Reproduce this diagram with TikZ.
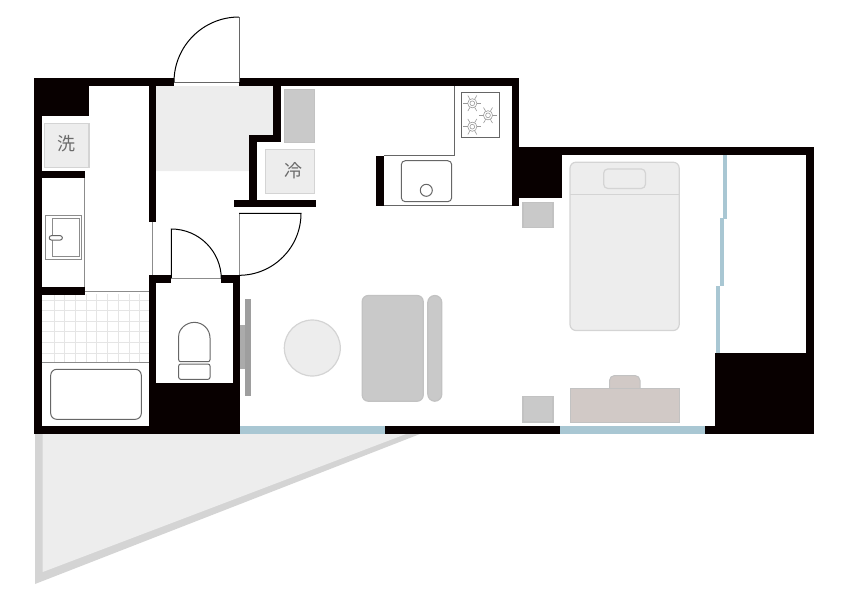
\documentclass[tikz,border=0pt]{standalone}
\usepackage{fontspec}
\usepackage{tikz}
\newfontfamily\cjk{Noto Sans CJK JP}
\definecolor{glasscol}{HTML}{A9C7D3}
\definecolor{deskcol}{HTML}{D1C9C6}
\begin{document}
\begin{tikzpicture}[x=1pt,y=-1pt,
    wall/.style={fill=black!97!red},
    glass/.style={fill=glasscol},
    edgeline/.style={draw=black!60,line width=1pt},
    fine/.style={draw=black!45,line width=1pt},
    furn/.style={fill=black!7,draw=black!17,line width=1.2pt},
    darkfurn/.style={fill=black!21,draw=black!24,line width=1.2pt},
    ring/.style={draw=black!40,line width=0.6pt},
    sign/.style={font=\cjk\fontsize{18}{18}\selectfont,text=black!58}]
    \useasboundingbox (0,0) rectangle (850,600);

    \fill[black!17] (35,434) -- (35,584) -- (420,434) -- cycle;
    \fill[black!7] (42.7,434) -- (42.7,572) -- (406,434) -- cycle;

    \fill[black!7] (156,86) rectangle (273,135) (156,135) rectangle (249,171);

    \foreach \x in {54,64.7,...,140}
        \draw[black!10,line width=0.8pt] (\x,294) -- (\x,362);
    \foreach \y in {300,310.6,...,355}
        \draw[black!10,line width=0.8pt] (42,\y) -- (149,\y);

    \fill[wall] (34,78) rectangle (174,86);
    \fill[wall] (239,78) rectangle (519.3,86);
    \fill[wall] (34,78) rectangle (89.3,116.3);
    \fill[wall] (34,78) rectangle (41.7,434);
    \fill[wall] (34,426) rectangle (240.3,434);
    \fill[wall] (385,426) rectangle (559.7,434);
    \fill[wall] (705.3,426) rectangle (814,434);
    \fill[wall] (34,171) rectangle (85.3,178.3);
    \fill[wall] (34,287) rectangle (85.3,294.7);
    \fill[wall] (148.7,86) rectangle (156.3,222);
    \fill[wall] (148.7,275) rectangle (171.3,282.7);
    \fill[wall] (221,275) rectangle (240.3,282.7);
    \fill[wall] (148.7,275) rectangle (156.3,434);
    \fill[wall] (232.7,275) rectangle (240.3,434);
    \fill[wall] (148.7,383.3) rectangle (240.3,434);
    \fill[wall] (273.3,86) rectangle (280.7,142.3);
    \fill[wall] (249,135) rectangle (280.7,142.3);
    \fill[wall] (249,135) rectangle (256.7,207);
    \fill[wall] (234.3,199.7) rectangle (316,207.3);
    \fill[wall] (376.3,155.7) rectangle (384,205.7);
    \fill[wall] (511.7,78) rectangle (519.3,205.7);
    \fill[wall] (511.7,147.3) rectangle (814,155);
    \fill[wall] (519.3,147.3) rectangle (562.3,198.3);
    \fill[wall] (806.3,147.3) rectangle (814,434);
    \fill[wall] (715,353) rectangle (814,434);

    \fill[glass] (240.3,426) rectangle (385,434);
    \fill[glass] (559.7,426) rectangle (705.3,434);
    \fill[glass] (723,155) rectangle (727,218.7);
    \fill[glass] (719.7,218) rectangle (723.7,285.7);
    \fill[glass] (716.3,285.7) rectangle (720.3,353);

    \draw[edgeline] (174,82) -- (239,82);
    \draw[edgeline] (239,82) -- (239,17);
    \draw[black,line width=1pt] (239,17) arc[start angle=270,end angle=180,radius=65];
    \draw[fine] (152,222) -- (152,275);
    \draw[fine] (171,278.5) -- (221,278.5);
    \draw[black,line width=1pt] (171.3,278) -- (171.3,229) arc[start angle=270,end angle=360,radius=50];
    \draw[fine] (239,213.3) -- (239,275);
    \draw[black,line width=1pt] (239,213.3) -- (301,213.3) arc[start angle=0,end angle=90,radius=62];

    \draw[fine] (84,178) -- (84,287);
    \draw[fine] (85,291) -- (149,291);
    \draw[fine] (41.7,362) -- (149,362);
    \draw[edgeline,rounded corners=6pt] (50.7,369.3) rectangle (141.3,419.3);

    \draw[fine] (45.3,215.7) rectangle (81.7,259.3);
    \draw[fine] (52.3,218.3) rectangle (79,256.7);
    \draw[edgeline,fill=white,rounded corners=2pt] (49.3,235.7) rectangle (62.3,240);

    \draw[edgeline] (178.7,338) arc[start angle=180,end angle=360,radius=15.65] [rounded corners=2pt] -- (210,361.7) -- (178.7,361.7) -- cycle;
    \draw[edgeline,rounded corners=2pt] (178.7,364) rectangle (210,379.3);

    \fill[black!33] (240.3,325) rectangle (245,369.3);
    \fill[black!38] (244.7,299) rectangle (250.7,395.7);

    \draw[furn] (44.8,123.5) rectangle (89,167.5);
    \node[sign] (wash) at (66.5,144) {洗};
    \draw[darkfurn] (284.8,89.8) rectangle (314.7,142.3);
    \draw[furn] (265.8,149.8) rectangle (314.5,193.5);
    \node[sign] (fridge) at (293,171) {冷};

    \draw[edgeline] (454.3,86) -- (454.3,155.7) -- (384,155.7);
    \draw[edgeline] (384,205.3) -- (512,205.3);
    \draw[edgeline] (461,92.3) rectangle (499.3,137.7);
    \foreach \cx/\cy in {472.3/103.3,488/115.3,472.3/126.7} {
        \draw[ring] (\cx,\cy) circle (4.6) circle (2.4);
        \foreach \a in {0,60,...,300}
            \draw[ring] ({\cx+4.6*cos(\a)},{\cy+4.6*sin(\a)}) -- ({\cx+9*cos(\a)},{\cy+9*sin(\a)});
    }
    \draw[edgeline,rounded corners=4pt] (401.3,160.7) rectangle (451.7,201.7);
    \draw[edgeline] (426.3,190.3) circle (6);

    \draw[furn] (312.3,348) circle (28);
    \draw[darkfurn,rounded corners=6pt] (362.2,295.5) rectangle (423.2,401.2);
    \draw[darkfurn,rounded corners=7pt] (427.8,295.5) rectangle (441.8,401.2);
    \draw[darkfurn] (523,202.2) rectangle (553,227.7);
    \draw[darkfurn] (523,396.5) rectangle (553,422);

    \draw[furn,rounded corners=6pt] (570,162.2) rectangle (679.2,330.5);
    \draw[furn,line width=1pt] (570,194) -- (679.2,194);
    \draw[furn,rounded corners=4pt] (603.7,169) rectangle (645.4,188.4);

    \draw[fill=deskcol,draw=black!24,line width=1pt,rounded corners=5pt] (609.5,388) -- (609.5,375.5) -- (640,375.5) -- (640,388);
    \draw[fill=deskcol,draw=black!24,line width=1pt] (570,388) rectangle (679.2,422);
\end{tikzpicture}
\end{document}
